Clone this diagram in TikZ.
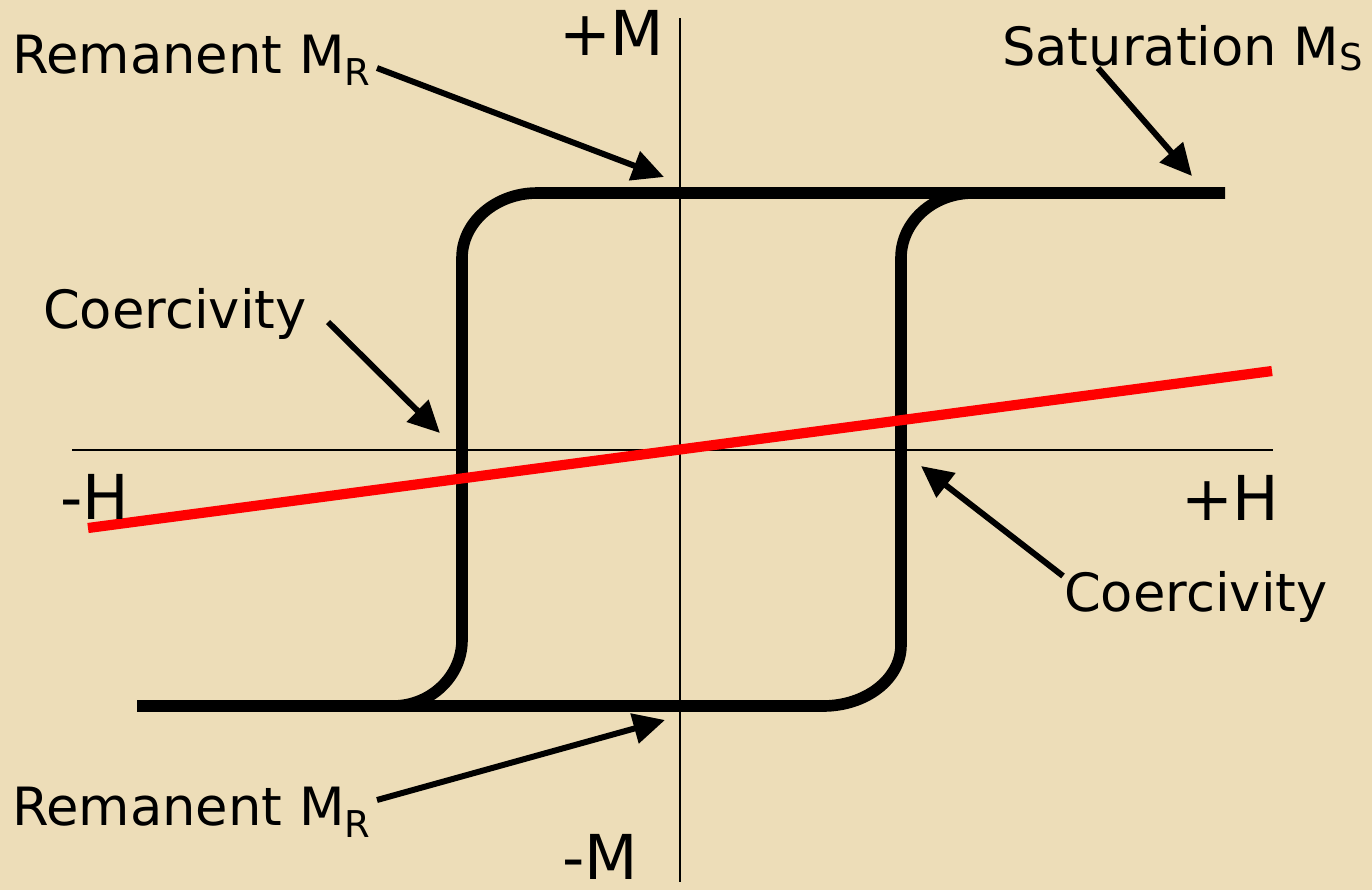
\documentclass[tikz,border=0pt]{standalone}
\usepackage{fontspec}
\setmainfont{DejaVu Sans}
\usetikzlibrary{arrows.meta}
\tikzset{every picture/.style={line width=0.6pt}}
\definecolor{parchment}{RGB}{237,221,184}
\newcommand{\lowsub}[2]{\raisebox{#1}{\fontsize{10.5}{10.5}\selectfont #2}}

\begin{document}
\begin{tikzpicture}[x=0.01cm, y=-0.01cm, >={Triangle[length=9pt, width=8.5pt]},
    every node/.style={inner sep=0pt, anchor=base west},
    lbl/.style={font=\fontsize{15}{17}\selectfont},
    axlbl/.style={font=\fontsize{17.6}{20}\selectfont},
    loopline/.style={line width=3.3pt},
    pointer/.style={->, line width=1.7pt}]
        \useasboundingbox (0,0) rectangle (1372,890);
        \fill[parchment] (0,0) rectangle (1372,890);
        % axes
        \coordinate (mtop) at (680,18);
        \coordinate (mbot) at (680,882);
        \coordinate (hleft) at (72,450);
        \coordinate (hright) at (1273,450);
        \draw (mtop) -- (mbot);
        \draw (hleft) -- (hright);
        % hysteresis loop
        \draw[loopline] (137,706) -- (393,706)
            .. controls (431,706) and (462,676) .. (462,640) -- (462,258)
            .. controls (462,222) and (496,193) .. (537,193) -- (1225,193);
        \draw[loopline] (973,193)
            .. controls (933,193) and (901,222) .. (901,258) -- (901,645)
            .. controls (901,679) and (866,706) .. (823,706) -- (393,706);
        % linear response
        \coordinate (rleft) at (88,528);
        \coordinate (rright) at (1272,371);
        \draw[red, line width=2.9pt] (rleft) -- (rright);
        % labels
        \node[lbl] (remtop) at (11,73) {Remanent M\lowsub{-3.6pt}{R}};
        \node[axlbl] (plusm) at (558,55) {+M};
        \node[lbl] (sat) at (1001,65) {Saturation M\lowsub{-1.5pt}{S}};
        \node[lbl] (coerl) at (42,328) {Coercivity};
        \node[axlbl] (minush) at (59,519) {-H};
        \node[axlbl] (plush) at (1180,520) {+H};
        \node[lbl] (coerr) at (1063,611) {Coercivity};
        \node[lbl] (rembot) at (11,825) {Remanent M\lowsub{-3.6pt}{R}};
        \node[axlbl] (minusm) at (561,879) {-M};
        % pointers
        \coordinate (remtopa) at (377,68);
        \coordinate (remtopb) at (664,177);
        \coordinate (sata) at (1098,68);
        \coordinate (satb) at (1192,176);
        \coordinate (coerla) at (328,322);
        \coordinate (coerlb) at (440,433);
        \coordinate (coerra) at (1063,576);
        \coordinate (coerrb) at (921,466);
        \coordinate (rembota) at (377,800);
        \coordinate (rembotb) at (665,720);
        \draw[pointer] (remtopa) -- (remtopb);
        \draw[pointer] (sata) -- (satb);
        \draw[pointer] (coerla) -- (coerlb);
        \draw[pointer] (coerra) -- (coerrb);
        \draw[pointer] (rembota) -- (rembotb);
    \end{tikzpicture}
\end{document}
